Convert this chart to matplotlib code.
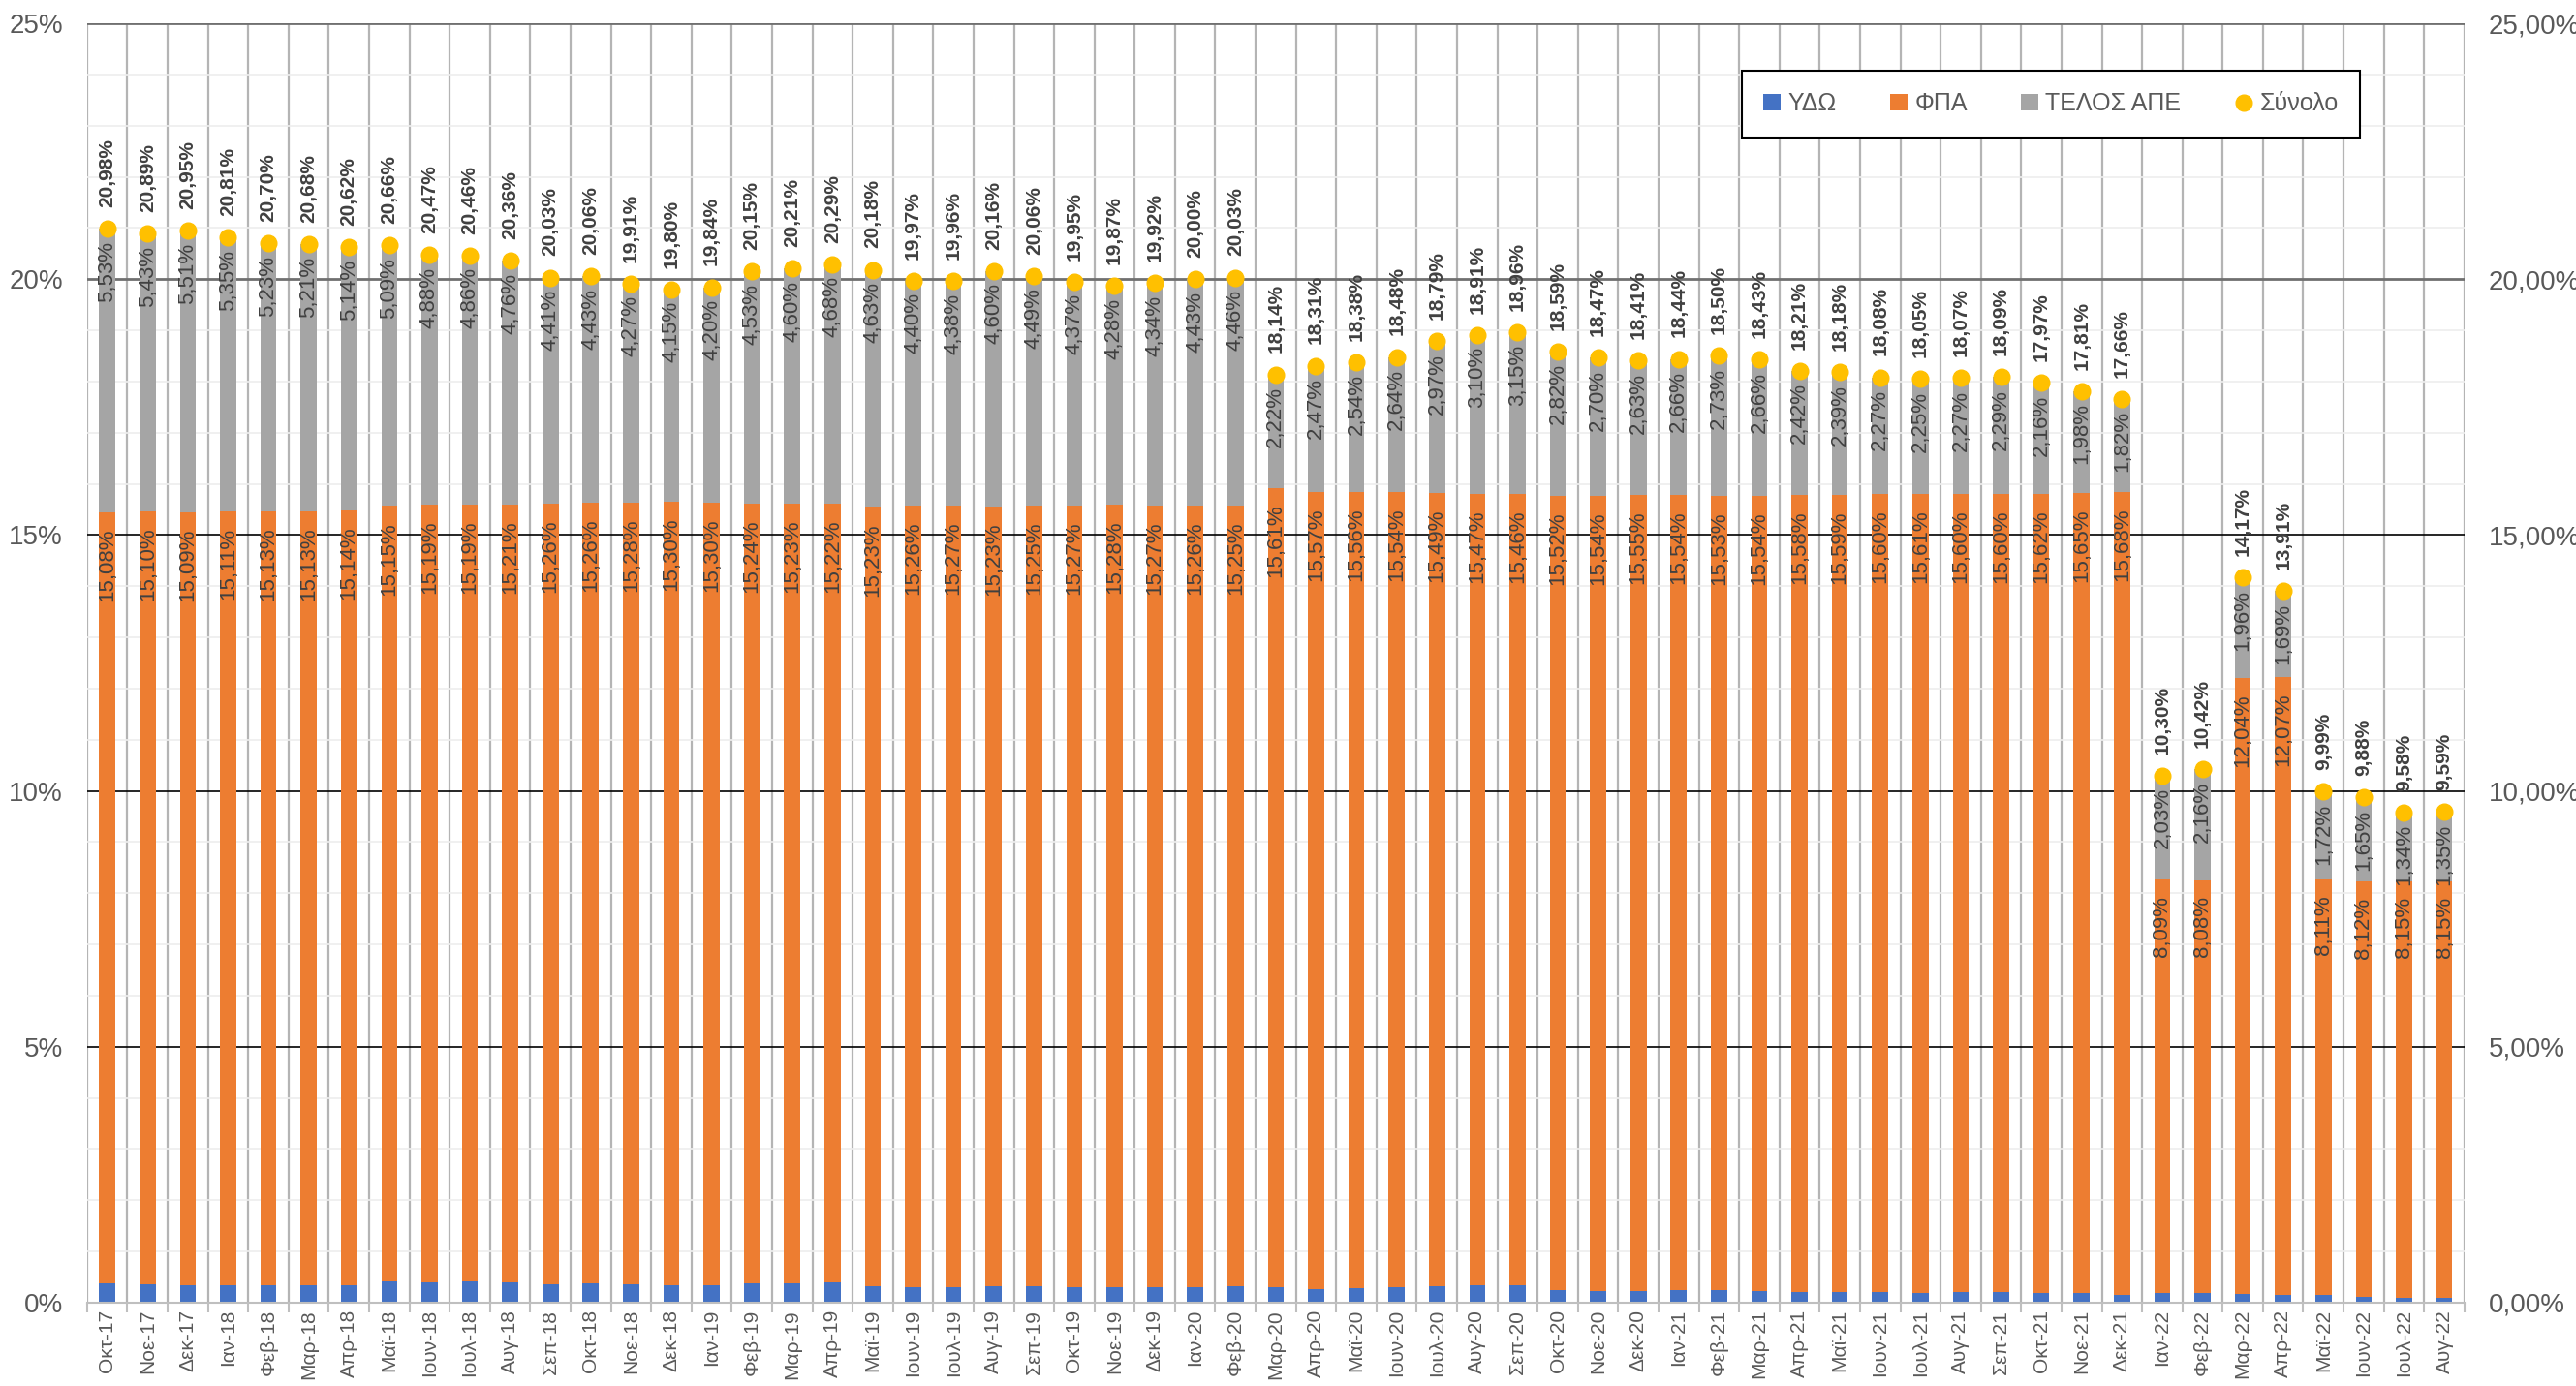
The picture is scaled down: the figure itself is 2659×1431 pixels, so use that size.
import matplotlib.pyplot as plt
import numpy as np
from matplotlib import font_manager
from matplotlib.ticker import FuncFormatter, MultipleLocator, FixedLocator

months = ['Οκτ-17', 'Νοε-17', 'Δεκ-17',
          'Ιαν-18', 'Φεβ-18', 'Μαρ-18', 'Απρ-18', 'Μαϊ-18', 'Ιουν-18',
          'Ιουλ-18', 'Αυγ-18', 'Σεπ-18', 'Οκτ-18', 'Νοε-18', 'Δεκ-18',
          'Ιαν-19', 'Φεβ-19', 'Μαρ-19', 'Απρ-19', 'Μαϊ-19', 'Ιουν-19',
          'Ιουλ-19', 'Αυγ-19', 'Σεπ-19', 'Οκτ-19', 'Νοε-19', 'Δεκ-19',
          'Ιαν-20', 'Φεβ-20', 'Μαρ-20', 'Απρ-20', 'Μαϊ-20', 'Ιουν-20',
          'Ιουλ-20', 'Αυγ-20', 'Σεπ-20', 'Οκτ-20', 'Νοε-20', 'Δεκ-20',
          'Ιαν-21', 'Φεβ-21', 'Μαρ-21', 'Απρ-21', 'Μαϊ-21', 'Ιουν-21',
          'Ιουλ-21', 'Αυγ-21', 'Σεπ-21', 'Οκτ-21', 'Νοε-21', 'Δεκ-21',
          'Ιαν-22', 'Φεβ-22', 'Μαρ-22', 'Απρ-22', 'Μαϊ-22', 'Ιουν-22',
          'Ιουλ-22', 'Αυγ-22']

# ΥΔΩ (no labels on the chart)
ydo = [0.37, 0.36, 0.35, 0.35, 0.34, 0.34, 0.34, 0.42, 0.40, 0.41, 0.39, 0.36,
       0.37, 0.36, 0.35, 0.34, 0.38, 0.38, 0.39, 0.32, 0.31, 0.31, 0.33, 0.32,
       0.31, 0.31, 0.31, 0.31, 0.32, 0.31, 0.27, 0.28, 0.30, 0.33, 0.34, 0.35,
       0.25, 0.23, 0.23, 0.24, 0.24, 0.23, 0.21, 0.20, 0.21, 0.19, 0.20, 0.20,
       0.19, 0.18, 0.16, 0.18, 0.18, 0.17, 0.15, 0.16, 0.11, 0.09, 0.09]

# ΦΠΑ
fpa = [15.08, 15.10, 15.09, 15.11, 15.13, 15.13, 15.14, 15.15, 15.19, 15.19, 15.21, 15.26,
       15.26, 15.28, 15.30, 15.30, 15.24, 15.23, 15.22, 15.23, 15.26, 15.27, 15.23, 15.25,
       15.27, 15.28, 15.27, 15.26, 15.25, 15.61, 15.57, 15.56, 15.54, 15.49, 15.47, 15.46,
       15.52, 15.54, 15.55, 15.54, 15.53, 15.54, 15.58, 15.59, 15.60, 15.61, 15.60, 15.60,
       15.62, 15.65, 15.68, 8.09, 8.08, 12.04, 12.07, 8.11, 8.12, 8.15, 8.15]

# ΤΕΛΟΣ ΑΠΕ
ape = [5.53, 5.43, 5.51, 5.35, 5.23, 5.21, 5.14, 5.09, 4.88, 4.86, 4.76, 4.41,
       4.43, 4.27, 4.15, 4.20, 4.53, 4.60, 4.68, 4.63, 4.40, 4.38, 4.60, 4.49,
       4.37, 4.28, 4.34, 4.43, 4.46, 2.22, 2.47, 2.54, 2.64, 2.97, 3.10, 3.15,
       2.82, 2.70, 2.63, 2.66, 2.73, 2.66, 2.42, 2.39, 2.27, 2.25, 2.27, 2.29,
       2.16, 1.98, 1.82, 2.03, 2.16, 1.96, 1.69, 1.72, 1.65, 1.34, 1.35]

# Σύνολο
total = [20.98, 20.89, 20.95, 20.81, 20.70, 20.68, 20.62, 20.66, 20.47, 20.46, 20.36, 20.03,
         20.06, 19.91, 19.80, 19.84, 20.15, 20.21, 20.29, 20.18, 19.97, 19.96, 20.16, 20.06,
         19.95, 19.87, 19.92, 20.00, 20.03, 18.14, 18.31, 18.38, 18.48, 18.79, 18.91, 18.96,
         18.59, 18.47, 18.41, 18.44, 18.50, 18.43, 18.21, 18.18, 18.08, 18.05, 18.07, 18.09,
         17.97, 17.81, 17.66, 10.30, 10.42, 14.17, 13.91, 9.99, 9.88, 9.58, 9.59]

installed = {f.name for f in font_manager.fontManager.ttflist}
num_font = 'Liberation Sans Narrow' if 'Liberation Sans Narrow' in installed else 'Liberation Sans'
plt.rcParams['font.family'] = ['Liberation Sans', 'DejaVu Sans']


def pct(v):
    return ('%.2f' % v).replace('.', ',') + '%'


x = np.arange(len(months))
ydo_a = np.array(ydo)
fpa_a = np.array(fpa)
ape_a = np.array(ape)
base2 = ydo_a + fpa_a
w = 0.4

fig = plt.figure(figsize=(26.59, 14.31), dpi=100)
ax = fig.add_axes([0.0338, 0.0601, 0.9229, 0.9231])
ax.set_axisbelow(True)

b1 = ax.bar(x, ydo_a, w, color='#4472C4', label='ΥΔΩ')
b2 = ax.bar(x, fpa_a, w, bottom=ydo_a, color='#ED7D31', label='ΦΠΑ')
b3 = ax.bar(x, ape_a, w, bottom=base2, color='#A5A5A5', label='ΤΕΛΟΣ ΑΠΕ')
p, = ax.plot(x, total, 'o', ms=12, color='#FFC000', mec='#FFC000', label='Σύνολο', zorder=5)

lab_col = '#404040'
for i in x:
    ax.annotate(pct(fpa[i]), (i, base2[i]), xytext=(0, -12), textcoords='offset points',
                rotation=90, ha='center', va='top', fontsize=16, color=lab_col,
                family=num_font, zorder=6)
    ax.annotate(pct(ape[i]), (i, base2[i] + ape[i]), xytext=(0, -9), textcoords='offset points',
                rotation=90, ha='center', va='top', fontsize=16, color=lab_col,
                family=num_font, zorder=6)
    ax.annotate(pct(total[i]), (i, total[i]), xytext=(0, 16), textcoords='offset points',
                rotation=90, ha='center', va='bottom', fontsize=15, color=lab_col,
                fontweight='bold', family=num_font, zorder=6)

ax.set_xlim(-0.5, len(months) - 0.5)
ax.set_ylim(0, 25)
ax.set_xticks(x)
ax.set_xticklabels(months, rotation=90, fontsize=15, color='#595959')
ax.xaxis.set_minor_locator(FixedLocator(np.arange(-0.5, len(months), 1)))
ax.tick_params(axis='x', which='major', length=0, pad=5)
ax.tick_params(axis='x', which='minor', length=7, color='#bfbfbf', width=1.5)
ax.grid(axis='x', which='minor', color='#b4b4b4', linewidth=1.6)

ax.yaxis.set_major_locator(MultipleLocator(5))
ax.yaxis.set_minor_locator(MultipleLocator(1))
ax.yaxis.set_major_formatter(FuncFormatter(lambda v, pos: '%d%%' % v))
ax.tick_params(axis='y', which='both', length=0, pad=18, labelsize=20, labelcolor='#595959')
for t in ax.get_yticklabels():
    t.set_family(num_font)
ax.grid(axis='y', which='minor', color='#eeeeee', linewidth=1.2)
ax.grid(axis='y', which='major', color='black', linewidth=1.2)
for line, val in zip(ax.get_ygridlines(), ax.get_yticks()):
    if val >= 20:
        line.set_color('#707070')
        line.set_linewidth(2)

for s in ['top', 'left', 'right']:
    ax.spines[s].set_visible(False)
ax.spines['bottom'].set_color('#bfbfbf')
ax.spines['bottom'].set_linewidth(1.5)

ax2 = ax.twinx()
ax2.set_ylim(0, 25)
ax2.yaxis.set_major_locator(MultipleLocator(5))
ax2.yaxis.set_major_formatter(FuncFormatter(lambda v, pos: ('%.2f' % v).replace('.', ',') + '%'))
ax2.tick_params(axis='y', length=0, pad=18, labelsize=20, labelcolor='#595959')
for t in ax2.get_yticklabels():
    t.set_family(num_font)
for s in ax2.spines.values():
    s.set_visible(False)

leg = ax.legend(handles=[b1, b2, b3, p], loc='center', ncol=4, mode='expand',
                bbox_to_anchor=(0.696, 0.914, 0.260, 0.046), fontsize=18,
                handlelength=0.7, handleheight=0.7, handletextpad=0.3,
                borderpad=0.9, borderaxespad=0, fancybox=False, framealpha=1,
                edgecolor='black', labelcolor='#595959')
leg.get_frame().set_linewidth(1.5)
leg.set_zorder(10)

fig.savefig('out.png', dpi=100, facecolor='white')
